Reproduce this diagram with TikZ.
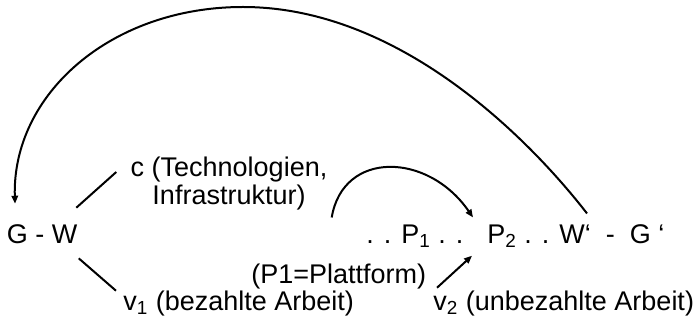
\documentclass[tikz,border=0pt]{standalone}
\usepackage{fontspec}
\setmainfont{Liberation Sans}
\usepackage{tikz}
\usetikzlibrary{arrows.meta}
\tikzset{%
  tipA/.tip={Triangle[length=4pt,width=3.2pt]},
  txt/.style={inner sep=0pt, anchor=base west, font=\fontsize{13.5}{14}\selectfont},
  ln/.style={color=black, line width=1pt},
  arr/.style={ln, -tipA}
}

\begin{document}
\begin{tikzpicture}[x=0.5pt,y=-0.5pt]
    \useasboundingbox (0,0) rectangle (694,320);
    \node[txt] (gw) at (6.5,243) {G - W};
    \node[txt, anchor=north, align=center] (c) at (229,157) {c (Technologien,\\Infrastruktur)};
    \node[txt] (v1) at (123,310) {v\textsubscript{1} (bezahlte Arbeit)};
    \node[txt] (plat) at (251,283) {(P1=Plattform)};
    \node[txt] (p1) at (366,243) {. . P\textsubscript{1} . .};
    \node[txt] (p2) at (487,243) {P\textsubscript{2} . . W‘ \ - \ G ‘};
    \node[txt] (v2) at (433,310) {v\textsubscript{2} (unbezahlte Arbeit)};
    \draw[ln] ([shift={(-1.5,-16)}]gw.north east) -- ([shift={(-14,15)}]c.north west);
    \draw[ln] ([shift={(1,14.7)}]gw.south east) -- ([shift={(-7,0.7)}]v1.north west);
    \draw[arr] ([shift={(4,6.5)}]c.south east) .. controls (343,150) and (428,152) .. ([shift={(-14,-6.3)}]p2.north west);
    \draw[arr] ([shift={(4,-2.3)}]v2.north west) -- ([shift={(-15,8)}]p2.south west);
    \draw[arr] ([shift={(100,-10.3)}]p2.north west) .. controls (530,140) and (400,7) .. (243,7)
        .. controls (110,7) and (12,95) .. ([shift={(8.5,-20)}]gw.north west);
\end{tikzpicture}
\end{document}
